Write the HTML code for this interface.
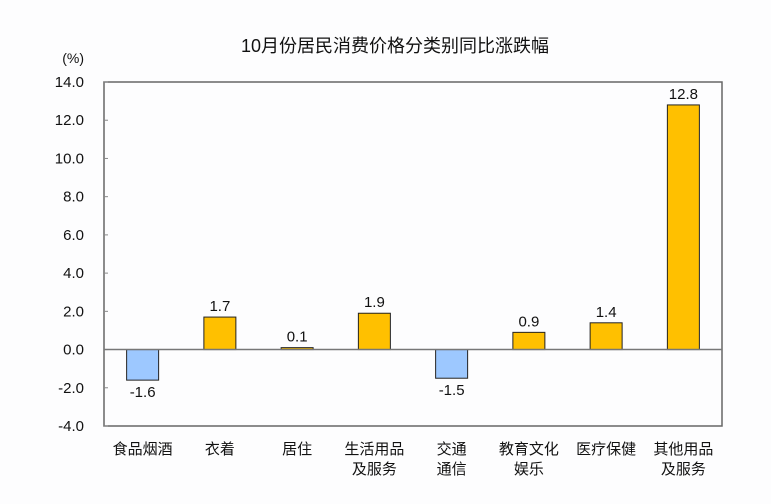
<!DOCTYPE html>
<html><head><meta charset="utf-8"><style>
body{margin:0;background:#fdfdfe;}
svg text{font-family:"Liberation Sans","Noto Sans CJK SC",sans-serif;fill:#111;}
</style></head><body>
<svg id="c" width="771" height="499">
<text x="395" y="52" text-anchor="middle" font-size="18">10月份居民消费价格分类别同比涨跌幅</text>
<text x="84" y="63" text-anchor="end" font-size="14">(%)</text>
<g id="g"></g>
</svg>
<script>
const categories=[["食品烟酒"],["衣着"],["居住"],["生活用品","及服务"],["交通","通信"],["教育文化","娱乐"],["医疗保健"],["其他用品","及服务"]];
const values=[-1.6,1.7,0.1,1.9,-1.5,0.9,1.4,12.8];
const yTicks=[14,12,10,8,6,4,2,0,-2,-4];
const L=104,R=722,T=82,B=426,ymin=-4,ymax=14;
const y=v=>T+(ymax-v)/(ymax-ymin)*(B-T);
const bw=(R-L)/categories.length;
const x=i=>L+bw*(i+0.5);
const g=document.getElementById('g');const NS='http://www.w3.org/2000/svg';
function mk(t,a,p){const e=document.createElementNS(NS,t);for(const k in a)e.setAttribute(k,a[k]);(p||g).appendChild(e);return e;}
const f=mk('rect',{x:L,y:T,width:R-L,height:B-T,fill:'none',stroke:'#666','stroke-width':1.5});


yTicks.forEach(v=>{
 const t=mk('text',{x:84,y:y(v)+5,'text-anchor':'end','font-size':15});t.textContent=v.toFixed(1);
 
 
 mk('line',{x1:L,x2:L+4,y1:y(v),y2:y(v),stroke:'#888'});
});
values.forEach((v,i)=>{
 const top=y(Math.max(v,0)),h=Math.abs(y(v)-y(0));
 const r=mk('rect',{x:x(i)-16,y:top,width:32,height:Math.max(h,1),fill:v<0?'#9dc8ff':'#ffc000',stroke:'#222','stroke-width':1});
 
 
 const t=mk('text',{x:x(i),y:v<0?y(v)+17:y(v)-6,'text-anchor':'middle','font-size':15});
 t.textContent=v.toFixed(1);
 
 
 categories[i].forEach((s,j)=>{
  const c=mk('text',{x:x(i),y:454+j*20,'text-anchor':'middle','font-size':15});c.textContent=s;
  
  
 });
});
const z=mk('line',{x1:L,x2:R,y1:y(0),y2:y(0),stroke:'#777','stroke-width':1.5});


</script>
</body></html>
